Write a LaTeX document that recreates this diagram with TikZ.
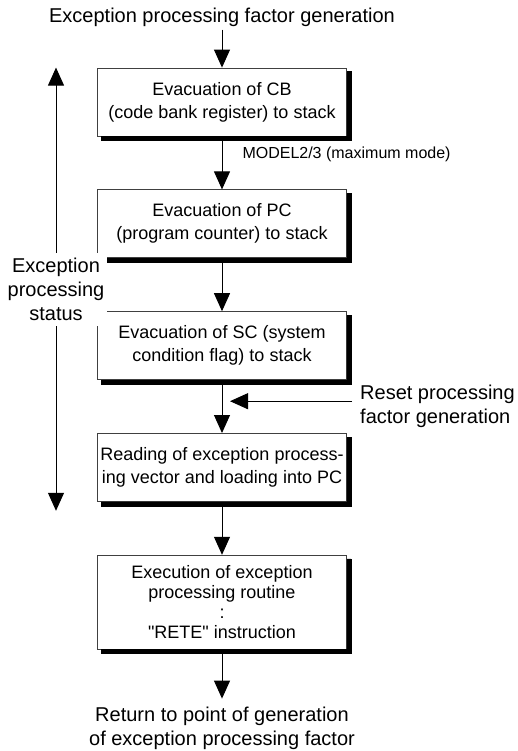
\documentclass[tikz,border=0pt]{standalone}
\usepackage{fontspec}
\setmainfont{Liberation Sans}
\usetikzlibrary{arrows.meta,positioning,calc}
\tikzset{
  box/.style   = {draw=black!75, line width=0.8pt, fill=white, align=center,
                  minimum width=249pt, minimum height=68pt, inner sep=2pt,
                  font=\fontsize{18}{23}\selectfont},
  boxshadow/.style = {fill=black, draw=black, line width=0.5pt},
  lab/.style   = {align=center, inner sep=3pt, font=\fontsize{20}{24}\selectfont},
  mlab/.style  = {inner sep=0pt, font=\fontsize{16}{19}\selectfont},
  arr/.style   = {-{Triangle[length=18pt,width=16pt]}, draw=black, line width=1pt},
  darr/.style  = {{Triangle[length=18pt,width=16pt]}-{Triangle[length=18pt,width=16pt]},
                  draw=black, line width=1pt},
}
\begin{document}
\begin{tikzpicture}[node distance=53pt and 0pt]
  \useasboundingbox (0,0) rectangle (518pt,-751pt);
  \node[box] (cb) at (222pt,-102pt) {Evacuation of CB\\(code bank register) to stack};
  \node[box, below=of cb] (pc) {Evacuation of PC\\(program counter) to stack};
  \node[box, below=of pc] (sc) {Evacuation of SC (system\\condition flag) to stack};
  \node[box, below=of sc] (vec) {Reading of exception process-\\ing vector and loading into PC};
  \node[box, below=of vec, minimum height=94pt, font=\fontsize{18}{20}\selectfont] (rout)
    {Execution of exception\\processing routine\\:\\\textquotedbl RETE\textquotedbl{} instruction};
  \node[lab, above=38pt of cb] (src) {Exception processing factor generation};
  \node[lab, below=54pt of rout] (ret) {Return to point of generation\\of exception processing factor};
  \coordinate (join) at ($(sc.south)!0.4!(vec.north)$);
  \node[lab, inner sep=0pt, right=138pt of join, yshift=-5pt, align=left] (rst)
    {Reset processing\\factor generation};
  \coordinate (rstIn) at ([xshift=-8pt]rst.west);
  \coordinate (stTop) at ([xshift=-166pt]cb.north);
  \coordinate (stBot) at ([xshift=-166pt,yshift=-9pt]vec.south);

  % shadow strips along right and bottom edges
  \foreach \bx in {cb,pc,sc,vec,rout}{
    \coordinate (sw) at (\bx.south west);
    \coordinate (se) at (\bx.south east);
    \coordinate (ne) at (\bx.north east);
    \fill[boxshadow] ($(sw)+(4pt,0pt)$) -- ($(sw)+(4pt,-4pt)$) -- ($(se)+(4pt,-4pt)$)
      -- ($(ne)+(4pt,-4pt)$) -- ($(ne)+(0pt,-4pt)$) -- (se) -- cycle;
  }

  \draw[arr] (src) -- (cb);
  \draw[arr] (cb) -- node[mlab, pos=0.33, right=20pt] (mode) {MODEL2/3 (maximum mode)} (pc);
  \draw[arr] (pc) -- (sc);
  \draw[arr] (sc) -- (vec);
  \draw[arr] (rstIn |- join) -- ([xshift=8pt]join);
  \draw[arr] (vec) -- (rout);
  \draw[arr, shorten >=5pt] (rout) -- (ret);
  \draw[darr] (stTop) -- (stBot)
    node[midway, lab, fill=white, inner ysep=5pt] (stat) {Exception\\processing\\status};
\end{tikzpicture}
\end{document}
